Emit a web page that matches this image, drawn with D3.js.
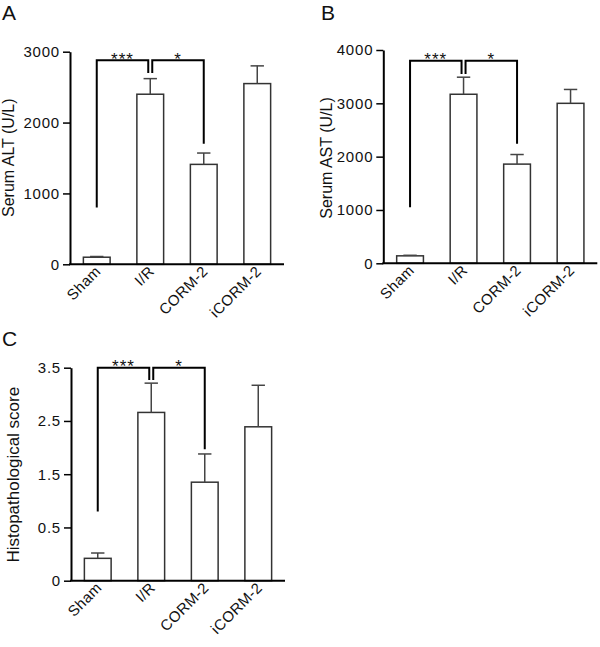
<!DOCTYPE html>
<html><head><meta charset="utf-8">
<script src="https://cdn.jsdelivr.net/npm/d3@7/dist/d3.min.js"></script>
<style>
body{margin:0;background:#fff;}
text{font-family:"Liberation Sans",Arial,sans-serif;fill:#111;}
</style></head>
<body><svg id="chart" width="600" height="647"></svg>
<script>
const categories = ["Sham", "I/R", "CORM-2", "iCORM-2"];

const altMean = [100, 2400, 1410, 2550];
const altSem  = [10, 220, 160, 250];
const altTicks = [0, 1000, 2000, 3000];
const altBrackets = [
  {from: 0, to: 1, top: 2880, startEnd: 800, stopEnd: 2700, label: "***"},
  {from: 1, to: 2, top: 2880, startEnd: 2700, stopEnd: 1700, label: "*"}
];

const astMean = [140, 3170, 1860, 3000];
const astSem  = [10, 320, 180, 260];
const astTicks = [0, 1000, 2000, 3000, 4000];
const astBrackets = [
  {from: 0, to: 1, top: 3800, startEnd: 1050, stopEnd: 3550, label: "***"},
  {from: 1, to: 2, top: 3800, startEnd: 3550, stopEnd: 2240, label: "*"}
];

const histMean = [0.21, 2.66, 1.35, 2.39];
const histSem  = [0.05, 0.55, 0.53, 0.78];
const histTicks = [0, 0.5, 1.5, 2.5, 3.5];
const histTickLabels = ["0", "0.5", "1.5", "2.5", "3.5"];
const histBrackets = [
  {from: 0, to: 1, top: 3.5, startEnd: 0.80, stopEnd: 3.27, label: "***"},
  {from: 1, to: 2, top: 3.5, startEnd: 3.27, stopEnd: 1.97, label: "*"}
];

const svg = d3.select("#chart");

function panel(cfg) {
  const W = 214, H = cfg.h;
  const g = svg.append("g").attr("transform", `translate(${cfg.x},${cfg.y})`);
  const x = d3.scaleBand().domain(categories).range([0, W]).paddingInner(0.5).paddingOuter(0.25);
  const y = cfg.yScale.range(cfg.yRange(H));

  // bars
  g.selectAll("rect.bar").data(categories).join("rect")
    .attr("x", d => x(d)).attr("width", x.bandwidth())
    .attr("y", (d, i) => y(cfg.mean[i]))
    .attr("height", (d, i) => y(0) - y(cfg.mean[i]))
    .attr("fill", "#fff").attr("stroke", "#333").attr("stroke-width", 1.5);

  // error bars (upper only)
  const cap = x.bandwidth() / 2;
  categories.forEach((c, i) => {
    const cx = x(c) + x.bandwidth() / 2;
    const top = y(cfg.mean[i] + cfg.sem[i]);
    g.append("line").attr("x1", cx).attr("x2", cx)
      .attr("y1", y(cfg.mean[i])).attr("y2", top)
      .attr("stroke", "#444").attr("stroke-width", 1.5);
    g.append("line").attr("x1", cx - cap / 2).attr("x2", cx + cap / 2)
      .attr("y1", top).attr("y2", top)
      .attr("stroke", "#444").attr("stroke-width", 1.5);
  });

  // y axis
  const ya = d3.axisLeft(y).tickValues(cfg.ticks).tickSize(7).tickSizeOuter(0).tickPadding(3)
    .tickFormat(cfg.tickFormat || d3.format("d"));
  const yg = g.append("g").call(ya);
  yg.select(".domain").attr("stroke", "#000").attr("stroke-width", 2);
  yg.selectAll(".tick line").attr("stroke", "#000").attr("stroke-width", 1.5);
  yg.selectAll(".tick text").style("font-size", "15px").style("letter-spacing", "0.8px")
    .style("font-family", "'Liberation Sans',Arial,sans-serif").attr("fill", "#111");

  // x axis line
  g.append("line").attr("x1", -1).attr("x2", W).attr("y1", H).attr("y2", H)
    .attr("stroke", "#000").attr("stroke-width", 2);

  // x labels
  categories.forEach(c => {
    const cx = x(c) + x.bandwidth() / 2;
    g.append("text").attr("text-anchor", "end")
      .attr("transform", `translate(${cx + 5},${H + 8}) rotate(-45)`)
      .style("font-size", "15px").style("letter-spacing", "0.4px").text(c);
  });

  // brackets
  cfg.brackets.forEach((b, k) => {
    const off = k === 0 ? -2 : 2;
    const xa = x(categories[b.from]) + x.bandwidth() / 2 + (k === 1 ? off : 0);
    const xb = x(categories[b.to]) + x.bandwidth() / 2 + (k === 0 ? off : 0);
    const yt = y(b.top);
    g.append("path")
      .attr("d", `M${xa},${y(b.startEnd)}V${yt}H${xb}V${y(b.stopEnd)}`)
      .attr("fill", "none").attr("stroke", "#000").attr("stroke-width", 2);
    g.append("text").attr("x", (xa + xb) / 2).attr("y", yt + 4.5)
      .attr("text-anchor", "middle").style("font-size", "17px").style("letter-spacing", "1px")
      .attr("fill", "#333").text(b.label);
  });

  // y label
  g.append("text").attr("text-anchor", "middle")
    .attr("transform", `translate(${cfg.labelX},${cfg.labelY}) rotate(-90)`)
    .style("font-size", cfg.labelSize).text(cfg.label);

  // panel letter
  svg.append("text").attr("x", cfg.letterX).attr("y", cfg.letterY)
    .style("font-size", "21px").text(cfg.letter);
}

panel({x: 70, y: 51.7, h: 212.6, yScale: d3.scaleLinear().domain([0, 3000]),
  yRange: H => [H, 0], mean: altMean, sem: altSem, ticks: altTicks,
  brackets: altBrackets, label: "Serum ALT (U/L)", labelX: -56, labelY: 106, labelSize: "16px",
  letter: "A", letterX: 2, letterY: 20});

panel({x: 383.3, y: 50, h: 213.3, yScale: d3.scaleLinear().domain([0, 4000]),
  yRange: H => [H, 0], mean: astMean, sem: astSem, ticks: astTicks,
  brackets: astBrackets, label: "Serum AST (U/L)", labelX: -51, labelY: 108, labelSize: "16px",
  letter: "B", letterX: 321, letterY: 20});

panel({x: 71, y: 367.7, h: 213, yScale: d3.scaleLinear().domain([0, 0.5, 3.5]),
  yRange: H => [H, H * 0.75, 0], mean: histMean, sem: histSem, ticks: histTicks,
  tickFormat: (d, i) => histTickLabels[i],
  brackets: histBrackets, label: "Histopathological score", labelX: -52, labelY: 107, labelSize: "17px",
  letter: "C", letterX: 2, letterY: 346});
</script></body></html>
